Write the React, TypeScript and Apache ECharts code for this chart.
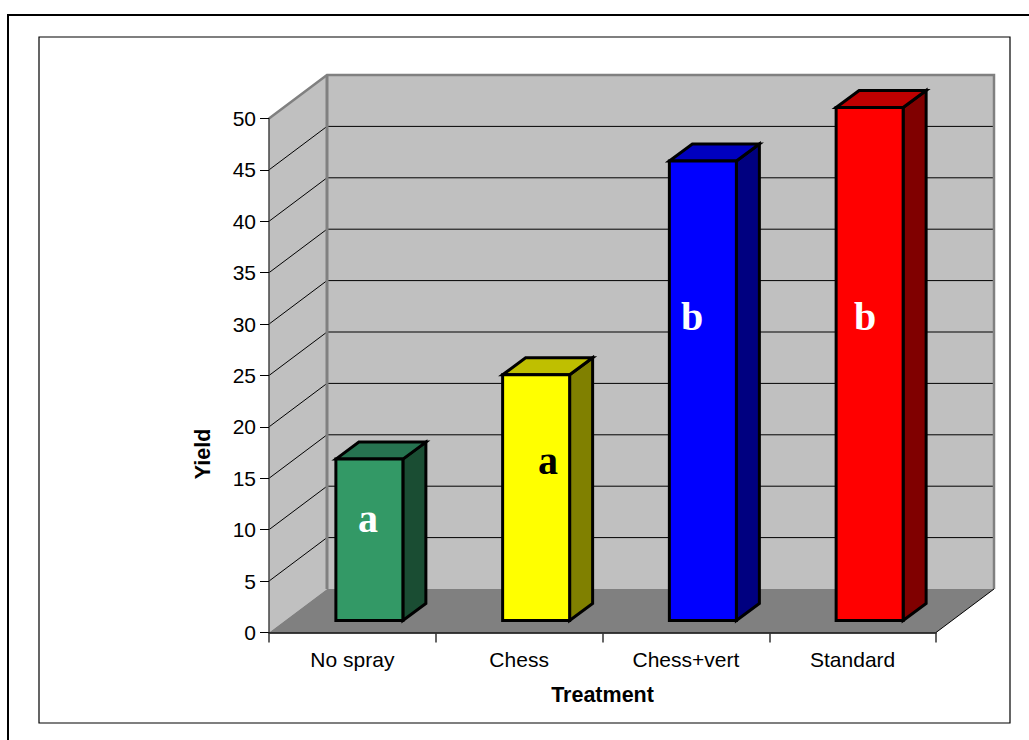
import React, { useEffect, useRef } from "react";
import * as echarts from "echarts";

// Yield by spray treatment
const treatments = ["No spray", "Chess", "Chess+vert", "Standard"];
const yields = [15.7, 23.9, 44.7, 49.9];
const yTicks = [0, 5, 10, 15, 20, 25, 30, 35, 40, 45, 50];
const frontColors = ["#339966", "#ffff00", "#0000ff", "#ff0000"];
const topColors = ["#267350", "#bfbf00", "#0000bf", "#bf0000"];
const sideColors = ["#1a4d33", "#808000", "#000080", "#800000"];

const SANS = '"Liberation Sans", Arial, sans-serif';
const SERIF = '"Liberation Serif", "Times New Roman", serif';

// Oblique offset of the back wall and of each 3D column.
const WALL_DX = 58;
const WALL_DY = -43.5;
const BAR_SHIFT_X = 17;
const BAR_SHIFT_Y = -12;
const BAR_DX = 23;
const BAR_DY = -17;
const BAR_WIDTH = 67;

const renderWalls = (params: any, api: any) => {
  const { x, y, width, height } = params.coordSys;
  const right = x + width;
  const bottom = y + height;
  const children: any[] = [
    {
      type: "rect",
      shape: { x: x + WALL_DX, y: y + WALL_DY, width, height },
      style: { fill: "#c0c0c0" },
    },
    {
      type: "polygon",
      shape: {
        points: [
          [x, y],
          [x + WALL_DX, y + WALL_DY],
          [x + WALL_DX, bottom + WALL_DY],
          [x, bottom],
        ],
      },
      style: { fill: "#c0c0c0" },
    },
    {
      type: "polygon",
      shape: {
        points: [
          [x, bottom],
          [x + WALL_DX, bottom + WALL_DY],
          [right + WALL_DX, bottom + WALL_DY],
          [right, bottom],
        ],
      },
      style: { fill: "#808080" },
    },
  ];
  yTicks
    .filter((v) => v > 0 && v < 50)
    .forEach((v) => {
      const py = api.coord([0, v])[1];
      children.push({
        type: "polyline",
        shape: {
          points: [
            [x, py],
            [x + WALL_DX, py + WALL_DY],
            [right + WALL_DX, py + WALL_DY],
          ],
        },
        style: { fill: "none", stroke: "#000", lineWidth: 1 },
      });
    });
  // Grey outline of the walls
  children.push({
    type: "polyline",
    shape: {
      points: [
        [x, y],
        [x + WALL_DX, y + WALL_DY],
        [right + WALL_DX, y + WALL_DY],
        [right + WALL_DX, bottom + WALL_DY],
      ],
    },
    style: { fill: "none", stroke: "#808080", lineWidth: 2.5 },
  });
  children.push({
    type: "line",
    shape: { x1: x + WALL_DX, y1: y + WALL_DY, x2: x + WALL_DX, y2: bottom + WALL_DY },
    style: { stroke: "#808080", lineWidth: 3 },
  });
  children.push({
    type: "line",
    shape: { x1: right, y1: bottom, x2: right + WALL_DX, y2: bottom + WALL_DY },
    style: { stroke: "#000", lineWidth: 1 },
  });
  return { type: "group", children };
};

const renderColumn = (params: any, api: any) => {
  const i = api.value(0);
  const [cx, top] = api.coord([i, api.value(1)]);
  const base = api.coord([i, 0])[1];
  const l = cx + BAR_SHIFT_X - BAR_WIDTH / 2;
  const r = l + BAR_WIDTH;
  const t = top + BAR_SHIFT_Y;
  const b = base + BAR_SHIFT_Y;
  const edge = { stroke: "#000", lineWidth: 3, lineJoin: "miter" };
  return {
    type: "group",
    children: [
      {
        type: "polygon",
        shape: {
          points: [
            [r, t],
            [r + BAR_DX, t + BAR_DY],
            [r + BAR_DX, b + BAR_DY],
            [r, b],
          ],
        },
        style: { fill: sideColors[i], ...edge },
      },
      {
        type: "polygon",
        shape: {
          points: [
            [l, t],
            [l + BAR_DX, t + BAR_DY],
            [r + BAR_DX, t + BAR_DY],
            [r, t],
          ],
        },
        style: { fill: topColors[i], ...edge },
      },
      {
        type: "rect",
        shape: { x: l, y: t, width: BAR_WIDTH, height: b - t },
        style: { fill: frontColors[i], ...edge },
      },
    ],
  };
};

const groupLetter = (text: string, x: number, y: number, fill: string) => ({
  type: "text",
  x,
  y,
  z: 20,
  style: {
    text,
    fill,
    font: `bold 40px ${SERIF}`,
    textAlign: "center",
    textVerticalAlign: "middle",
  },
});

export default function App() {
  const ref = useRef<HTMLDivElement>(null);

  useEffect(() => {
    const chart = echarts.init(ref.current!, null, { renderer: "svg" });
    chart.setOption({
      animation: false,
      backgroundColor: "#fff",
      grid: { left: 269, top: 118.5, width: 667, height: 514, containLabel: false },
      xAxis: {
        type: "category",
        data: treatments,
        z: 5,
        name: "Treatment",
        nameLocation: "middle",
        nameGap: 51,
        nameTextStyle: { fontFamily: SANS, fontSize: 21.5, fontWeight: "bold", color: "#000" },
        axisLine: { show: true, lineStyle: { color: "#000", width: 1.5 } },
        axisTick: { show: true, length: 10, lineStyle: { color: "#333", width: 1.5 } },
        axisLabel: { fontFamily: SANS, fontSize: 21, color: "#000", margin: 16 },
        splitLine: { show: false },
      },
      yAxis: {
        type: "value",
        min: 0,
        max: 50,
        interval: 5,
        z: 5,
        axisLine: { show: true, lineStyle: { color: "#444", width: 1.5 } },
        axisTick: { show: true, length: 9, lineStyle: { color: "#000", width: 1 } },
        axisLabel: { fontFamily: SANS, fontSize: 21, color: "#000", margin: 13 },
        splitLine: { show: false },
      },
      series: [
        {
          type: "custom",
          name: "Walls",
          z: 1,
          silent: true,
          renderItem: renderWalls,
          data: [[0, 0]],
          encode: { x: 0, y: 1 },
        },
        {
          type: "custom",
          name: "Yield",
          z: 3,
          renderItem: renderColumn,
          data: yields.map((v, i) => [i, v]),
          encode: { x: 0, y: 1 },
        },
      ],
      graphic: [
        {
          type: "polyline",
          shape: { points: [[8, 740], [8, 15], [1029, 15]] },
          style: { fill: "none", stroke: "#000", lineWidth: 2 },
        },
        {
          type: "rect",
          shape: { x: 39, y: 37, width: 971, height: 686 },
          style: { fill: "none", stroke: "#000", lineWidth: 1.2 },
        },
        {
          type: "text",
          x: 203,
          y: 454,
          rotation: Math.PI / 2,
          style: {
            text: "Yield",
            fill: "#000",
            font: `bold 21.5px ${SANS}`,
            textAlign: "center",
            textVerticalAlign: "middle",
          },
        },
        groupLetter("a", 368, 518, "#fff"),
        groupLetter("a", 548, 460, "#000"),
        groupLetter("b", 692, 316, "#fff"),
        groupLetter("b", 865, 316, "#fff"),
      ],
    });
    return () => chart.dispose();
  }, []);

  return <div ref={ref} style={{ position: "absolute", left: 0, top: 0, width: 1029, height: 740 }} />;
}
